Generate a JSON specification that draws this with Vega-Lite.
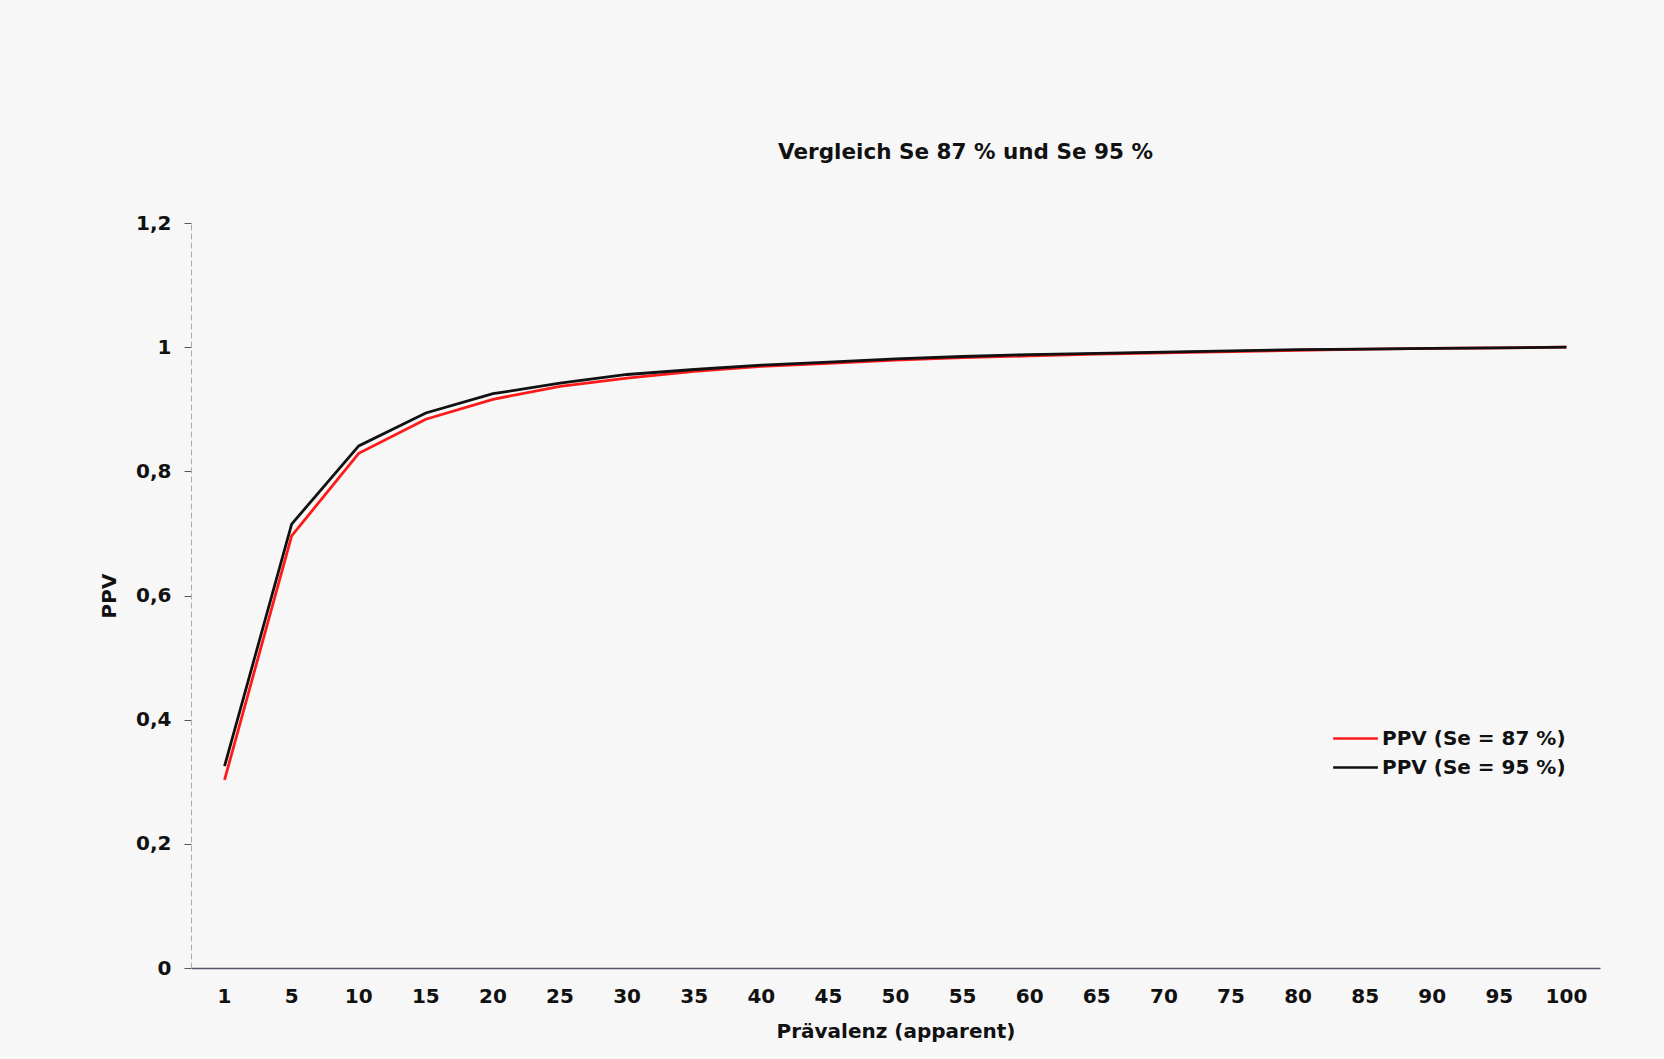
{
  "$schema": "https://vega.github.io/schema/vega-lite/v6.json",
  "width": 1409,
  "height": 745,
  "autosize": {"type": "none"},
  "padding": {"left": 191, "top": 223, "right": 64, "bottom": 91},
  "background": "#f7f7f7",
  "config": {
    "view": {"stroke": null},
    "font": "DejaVu Sans"
  },
  "title": {
    "text": "Vergleich Se 87 % und Se 95 %",
    "fontSize": 21.5,
    "fontWeight": "bold",
    "font": "DejaVu Sans",
    "color": "#111111",
    "anchor": "middle",
    "frame": "group",
    "dx": 70,
    "offset": 50
  },
  "data": {
    "values": [
      {"p": "1", "s": "PPV (Se = 87 %)", "v": 0.303},
      {"p": "5", "s": "PPV (Se = 87 %)", "v": 0.696},
      {"p": "10", "s": "PPV (Se = 87 %)", "v": 0.829},
      {"p": "15", "s": "PPV (Se = 87 %)", "v": 0.884},
      {"p": "20", "s": "PPV (Se = 87 %)", "v": 0.916},
      {"p": "25", "s": "PPV (Se = 87 %)", "v": 0.937},
      {"p": "30", "s": "PPV (Se = 87 %)", "v": 0.950},
      {"p": "35", "s": "PPV (Se = 87 %)", "v": 0.961},
      {"p": "40", "s": "PPV (Se = 87 %)", "v": 0.969},
      {"p": "45", "s": "PPV (Se = 87 %)", "v": 0.974},
      {"p": "50", "s": "PPV (Se = 87 %)", "v": 0.979},
      {"p": "55", "s": "PPV (Se = 87 %)", "v": 0.983},
      {"p": "60", "s": "PPV (Se = 87 %)", "v": 0.986},
      {"p": "65", "s": "PPV (Se = 87 %)", "v": 0.989},
      {"p": "70", "s": "PPV (Se = 87 %)", "v": 0.991},
      {"p": "75", "s": "PPV (Se = 87 %)", "v": 0.993},
      {"p": "80", "s": "PPV (Se = 87 %)", "v": 0.995},
      {"p": "85", "s": "PPV (Se = 87 %)", "v": 0.997},
      {"p": "90", "s": "PPV (Se = 87 %)", "v": 0.998},
      {"p": "95", "s": "PPV (Se = 87 %)", "v": 0.999},
      {"p": "100", "s": "PPV (Se = 87 %)", "v": 1.0},
      {"p": "1", "s": "PPV (Se = 95 %)", "v": 0.325},
      {"p": "5", "s": "PPV (Se = 95 %)", "v": 0.715},
      {"p": "10", "s": "PPV (Se = 95 %)", "v": 0.841},
      {"p": "15", "s": "PPV (Se = 95 %)", "v": 0.894},
      {"p": "20", "s": "PPV (Se = 95 %)", "v": 0.925},
      {"p": "25", "s": "PPV (Se = 95 %)", "v": 0.942},
      {"p": "30", "s": "PPV (Se = 95 %)", "v": 0.956},
      {"p": "35", "s": "PPV (Se = 95 %)", "v": 0.964},
      {"p": "40", "s": "PPV (Se = 95 %)", "v": 0.971},
      {"p": "45", "s": "PPV (Se = 95 %)", "v": 0.976},
      {"p": "50", "s": "PPV (Se = 95 %)", "v": 0.981},
      {"p": "55", "s": "PPV (Se = 95 %)", "v": 0.985},
      {"p": "60", "s": "PPV (Se = 95 %)", "v": 0.988},
      {"p": "65", "s": "PPV (Se = 95 %)", "v": 0.990},
      {"p": "70", "s": "PPV (Se = 95 %)", "v": 0.992},
      {"p": "75", "s": "PPV (Se = 95 %)", "v": 0.994},
      {"p": "80", "s": "PPV (Se = 95 %)", "v": 0.996},
      {"p": "85", "s": "PPV (Se = 95 %)", "v": 0.997},
      {"p": "90", "s": "PPV (Se = 95 %)", "v": 0.998},
      {"p": "95", "s": "PPV (Se = 95 %)", "v": 0.999},
      {"p": "100", "s": "PPV (Se = 95 %)", "v": 1.0}
    ]
  },
  "mark": {"type": "line", "strokeWidth": 2.8},
  "encoding": {
    "x": {
      "field": "p",
      "type": "ordinal",
      "sort": null,
      "scale": {"type": "band", "paddingInner": 0, "paddingOuter": 0},
      "axis": {
        "title": "Prävalenz (apparent)",
        "titleFontSize": 20,
        "titleFontWeight": "bold",
        "titleColor": "#111111",
        "titlePadding": 15,
        "labelAngle": 0,
        "labelFontSize": 20,
        "labelFontWeight": "bold",
        "labelColor": "#111111",
        "labelPadding": 18,
        "ticks": false,
        "domainColor": "#555566",
        "domainWidth": 1.5,
        "grid": false
      }
    },
    "y": {
      "field": "v",
      "type": "quantitative",
      "scale": {"domain": [0, 1.2]},
      "axis": {
        "title": "PPV",
        "titleFontSize": 20,
        "titleFontWeight": "bold",
        "titleColor": "#111111",
        "titlePadding": 16,
        "values": [0, 0.2, 0.4, 0.6, 0.8, 1, 1.2],
        "labelExpr": "replace(format(datum.value, '.1~f'), '.', ',')",
        "labelFontSize": 20,
        "labelFontWeight": "bold",
        "labelColor": "#111111",
        "labelPadding": 13,
        "tickSize": 7,
        "tickColor": "#555566",
        "domainColor": "#aaaab8",
        "domainDash": [6, 3],
        "grid": false
      }
    },
    "color": {
      "field": "s",
      "type": "nominal",
      "scale": {"domain": ["PPV (Se = 87 %)", "PPV (Se = 95 %)"], "range": ["#ff1a1a", "#111111"]},
      "legend": {
        "title": null,
        "orient": "none",
        "legendX": 1152,
        "legendY": 503,
        "symbolType": "M-2,0H2",
        "symbolSize": 500,
        "symbolStrokeWidth": 2.5,
        "labelFontSize": 20,
        "labelFontWeight": "bold",
        "labelColor": "#111111",
        "labelOffset": 14,
        "labelLimit": 400,
        "rowPadding": 6
      }
    }
  }
}
